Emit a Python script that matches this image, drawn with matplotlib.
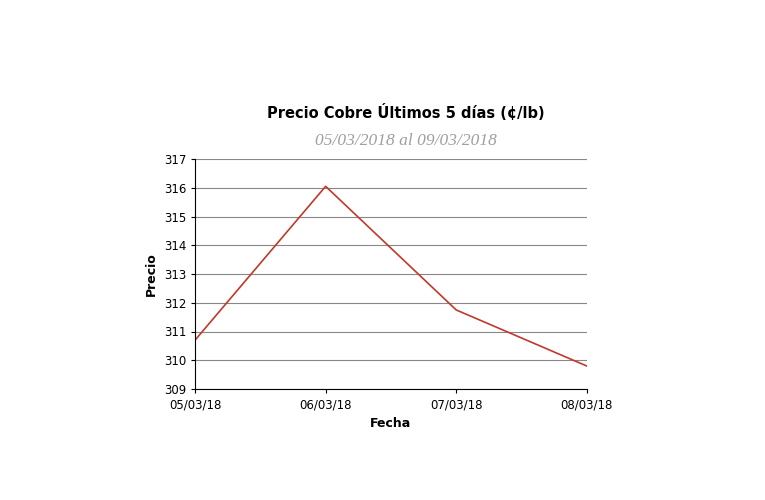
import matplotlib.pyplot as plt

fechas = ['05/03/18', '06/03/18', '07/03/18', '08/03/18']
precios = [310.7, 316.05, 311.75, 309.8]

fig = plt.figure(figsize=[7.65, 5], dpi=100)
ax = fig.add_axes([0.255, 0.222, 0.512, 0.46])
ax.plot(range(len(fechas)), precios, color='#c0392b', linewidth=1.2)
ax.set_xlim(0, len(fechas) - 1)
ax.set_ylim(309, 317)
ax.set_yticks(range(309, 318))
ax.set_xticks(range(len(fechas)))
ax.set_xticklabels(fechas)
ax.tick_params(labelsize=8.5, length=3)
ax.grid(axis='y', color='#888888', linewidth=0.8)
for s in ['top', 'right']:
    ax.spines[s].set_visible(False)
ax.set_xlabel('Fecha', fontsize=9, fontweight='bold')
ax.set_ylabel('Precio', fontsize=9, fontweight='bold')

fig.text(0.53, 0.763, 'Precio Cobre Últimos 5 días (¢/lb)', ha='center', fontsize=10.5, fontweight='bold')
fig.text(0.53, 0.71, '05/03/2018 al 09/03/2018', ha='center', fontsize=12.5,
         style='italic', color='#a0a0a0', family='Liberation Serif')

plt.savefig('out.png')
